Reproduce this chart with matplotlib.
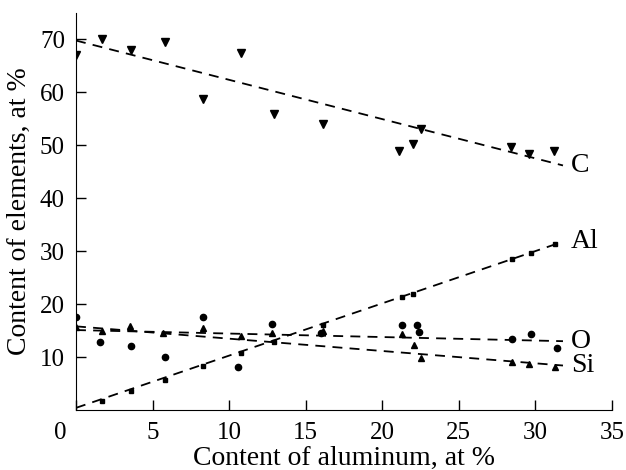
import matplotlib
matplotlib.use("Agg")
import matplotlib.pyplot as plt
import matplotlib.transforms as mtransforms
import numpy as np

# dados (at %)
c_x = [0.0, 1.7, 3.6, 5.8, 8.3, 10.8, 12.9, 16.1, 21.1, 22.0, 22.5, 28.4, 29.6, 31.2]
c_y = [67.1, 70.0, 68.1, 69.5, 58.8, 67.5, 55.9, 54.1, 48.9, 50.3, 53.1, 49.6, 48.4, 49.0]

al_x = [1.7, 3.6, 5.8, 8.3, 10.8, 12.9, 16.1, 21.3, 22.0, 28.5, 29.7, 31.3]
al_y = [1.7, 3.5, 5.7, 8.4, 10.7, 12.9, 16.1, 21.4, 22.0, 28.6, 29.7, 31.3]

o_x = [0.0, 1.55, 3.6, 5.8, 8.3, 10.6, 12.8, 16.0, 21.3, 22.3, 22.4, 28.5, 29.7, 31.4]
o_y = [17.5, 12.9, 12.1, 10.1, 17.6, 8.1, 16.2, 14.6, 16.1, 16.1, 14.8, 13.5, 14.4, 11.8]

si_x = [0.0, 1.7, 3.5, 5.7, 8.3, 10.8, 12.8, 16.1, 21.3, 22.1, 22.5, 28.5, 29.6, 31.3]
si_y = [15.6, 15.0, 15.9, 14.5, 15.4, 14.0, 14.6, 15.0, 14.3, 12.2, 9.8, 9.1, 8.6, 8.2]

# linhas de tendência (valor em x=0 e no fim da linha)
trend_x = [0.0, 31.8]
c_trend = [69.8, 46.2]
al_trend = [0.4, 31.8]
o_trend = [15.1, 13.0]
si_trend = [15.8, 8.4]

series = [
    ("C", c_x, c_y, c_trend, "v", 5.5),
    ("Al", al_x, al_y, al_trend, "s", 3.5),
    ("O", o_x, o_y, o_trend, "o", 4.5),
    ("Si", si_x, si_y, si_trend, "^", 5),
]

x_ticks = [0, 5, 10, 15, 20, 25, 30, 35]
y_ticks = [10, 20, 30, 40, 50, 60, 70]

plt.rcParams["font.family"] = ["Liberation Serif", "DejaVu Serif"]

fig = plt.figure(figsize=(6.26, 4.70), dpi=100)
ax = fig.add_axes([0.1214, 0.1277, 0.8562, 0.8446])

for name, xs, ys, tr, mk, ms in series:
    ax.plot(xs, ys, linestyle="none", marker=mk, markersize=ms, color="black")
    ax.plot(trend_x, tr, linestyle=(0, (5.5, 4)), color="black", linewidth=1.3)
    ax.text(trend_x[1] + 0.5, tr[1], name, fontsize=20, va="center", ha="left")

ax.set_xlim(0, 35)
ax.set_ylim(0, 75)
ax.set_xticks(x_ticks)
ax.set_yticks(y_ticks)
ax.tick_params(direction="in", length=7, width=1, labelsize=18)
ax.tick_params(axis="x", pad=9)
ax.tick_params(axis="y", pad=8)
ax.spines["top"].set_visible(False)
ax.spines["right"].set_visible(False)
ax.set_xlabel("Content of aluminum, at %", fontsize=20, labelpad=1)
ax.set_ylabel("Content of elements, at %", fontsize=20, labelpad=6)

# o "0" do eixo x está deslocado para a esquerda no original
fig.canvas.draw()
lbl0 = ax.get_xticklabels()[0]
lbl0.set_transform(lbl0.get_transform() + mtransforms.ScaledTranslation(-0.16, 0, fig.dpi_scale_trans))

fig.savefig("out.png", dpi=100)
